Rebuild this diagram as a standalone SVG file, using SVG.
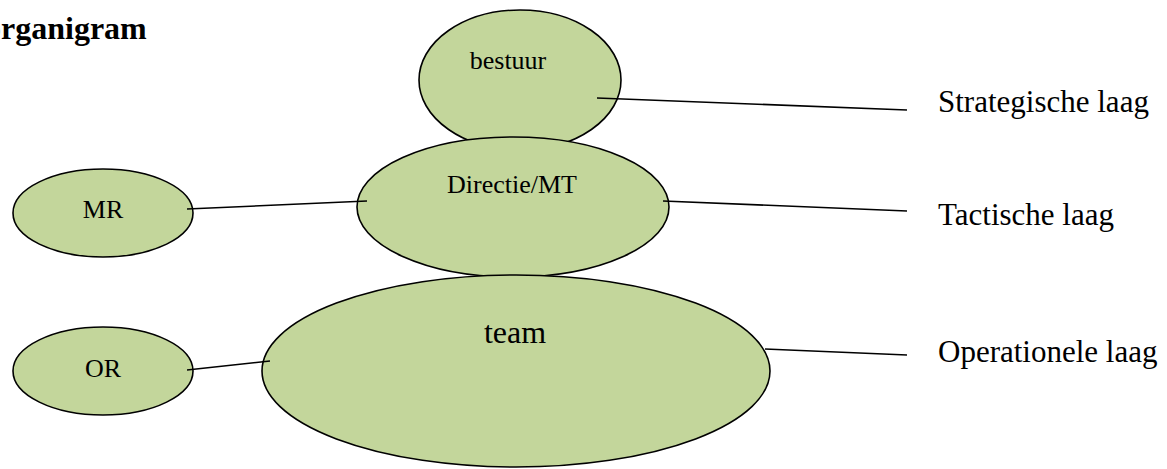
<svg xmlns="http://www.w3.org/2000/svg" width="1167" height="469" viewBox="0 0 1167 469">
  <style>
    .node { fill: #C3D69B; stroke: #000; stroke-width: 1.6; }
    .lbl { font-family: "Liberation Serif", "Times New Roman", serif; fill: #000; text-anchor: middle; }
    .side { font-family: "Liberation Serif", "Times New Roman", serif; fill: #000; font-size: 31px; }
    .conn line { stroke: #000; stroke-width: 1.6; }
  </style>
  <rect width="1167" height="469" fill="#fff"/>
  <text x="-15" y="39" font-family="Liberation Serif, Times New Roman, serif" font-weight="bold" font-size="32">organigram</text>

  <g id="bestuur">
    <ellipse class="node" cx="520" cy="80" rx="101" ry="70"/>
    <text class="lbl" x="508" y="69" font-size="26">bestuur</text>
  </g>
  <g id="directie">
    <ellipse class="node" cx="513" cy="207" rx="156" ry="70"/>
    <text class="lbl" x="512" y="193" font-size="26">Directie/MT</text>
  </g>
  <g id="team">
    <ellipse class="node" cx="516" cy="371" rx="254" ry="96"/>
    <text class="lbl" x="515" y="343" font-size="32">team</text>
  </g>
  <g id="mr">
    <ellipse class="node" cx="103" cy="213" rx="90" ry="44"/>
    <text class="lbl" x="103" y="218" font-size="26">MR</text>
  </g>
  <g id="or">
    <ellipse class="node" cx="103" cy="371" rx="90" ry="44"/>
    <text class="lbl" x="103" y="377" font-size="26">OR</text>
  </g>
  <g id="strategisch">
    <text class="side" x="938" y="112">Strategische laag</text>
  </g>
  <g id="tactisch">
    <text class="side" x="938" y="225">Tactische laag</text>
  </g>
  <g id="operationeel">
    <text class="side" x="938" y="362">Operationele laag</text>
  </g>

  <g class="conn" id="connectors">
    <line x1="187" y1="209" x2="367" y2="201"/>
    <line x1="187" y1="370" x2="270" y2="361"/>
    <line x1="597" y1="98" x2="907" y2="110"/>
    <line x1="663" y1="201" x2="907" y2="211"/>
    <line x1="765" y1="349" x2="907" y2="355"/>
  </g>
</svg>
